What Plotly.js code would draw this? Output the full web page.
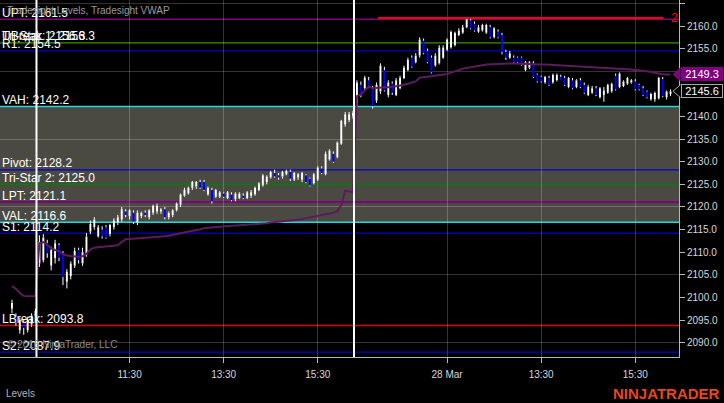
<!DOCTYPE html>
<html><head><meta charset="utf-8">
<script src="https://cdn.plot.ly/plotly-3.0.1.min.js"></script>
<style>html,body{margin:0;padding:0;background:#000;}#chart{width:724px;height:403px;}</style>
</head><body><div id="chart"></div>
<script>
// ---- data (5-minute bars; bar index 0 = session open of day 1) ----
const firstBar = -6;
const open = [
2097.5,2095.75,2092.75,2094.5,2092.75,2094.0,2096.0,
2107.5,2108.25,2112.0,2107.0,2108.75,2111.5,2109.75,2103.5,2104.75,2107.0,
2110.5,2107.5,2109.5,2114.5,2115.5,2113.5,2115.0,2115.5,2114.0,2115.5,
2116.5,2117.25,2119.0,2118.0,2118.75,2116.5,2118.0,2118.75,2117.75,2118.75,
2119.0,2119.0,2119.5,2117.75,2118.25,2119.25,2120.5,2122.5,2123.0,2124.25,
2124.5,2125.5,2125.5,2122.75,2123.75,2122.25,2122.25,2123.0,2122.0,2122.75,
2121.75,2122.0,2122.5,2122.0,2122.5,2122.75,2123.75,2124.75,2125.5,2126.5,
2127.5,2127.0,2126.75,2127.25,2127.75,2126.0,2126.5,2126.0,2127.0,2126.25,
2125.25,2126.0,2128.5,2127.25,2130.5,2131.75,2131.0,2134.0,2138.25,2139.25,2140.0,
2143.0,2147.0,2146.25,2148.0,2146.25,2143.5,2145.5,2150.25,2144.75,2147.25,
2144.75,2146.25,2148.5,2150.25,2153.0,2152.0,2153.5,2156.75,2154.5,2153.0,
2151.25,2151.75,2153.0,2154.75,2155.25,2155.75,2158.0,2158.5,2159.75,2161.25,
2160.5,2158.75,2159.0,2158.5,2159.75,2157.5,2158.75,2158.0,2154.25,2153.0,
2153.0,2153.0,2153.0,2150.25,2150.75,2151.75,2149.25,2148.75,2147.5,2148.5,
2147.5,2148.0,2148.75,2148.5,2146.5,2148.0,2146.5,2148.0,2147.0,2144.75,
2145.25,2146.25,2144.25,2144.75,2145.25,2145.5,2149.0,2146.5,2146.75,2147.25,
2147.5,2147.75,2147.0,2146.25,2145.5,2143.75,2143.75,2144.0,2148.25,2144.25,2145.0];
const high = [
2099.5,2096.5,2095.5,2095.0,2095.75,2096.5,2097.5,
2113.75,2114.0,2112.75,2111.25,2112.75,2112.0,2110.25,2106.25,2108.0,2111.0,
2111.0,2111.0,2114.25,2117.0,2117.75,2116.0,2115.75,2116.0,2116.25,2117.5,
2118.25,2120.0,2119.5,2119.5,2119.25,2119.25,2119.0,2119.25,2119.5,2120.5,
2120.75,2119.75,2120.0,2119.0,2119.5,2121.0,2123.0,2124.25,2124.5,2125.75,
2125.75,2126.0,2126.0,2124.5,2124.25,2124.0,2123.5,2123.25,2123.5,2123.25,
2123.25,2123.25,2123.0,2123.5,2123.75,2124.5,2125.5,2127.25,2127.0,2128.0,
2128.25,2127.5,2128.0,2128.25,2128.25,2127.75,2127.5,2127.75,2127.25,2126.5,
2127.5,2129.0,2129.0,2132.25,2132.75,2132.25,2134.5,2139.25,2141.0,2141.0,2141.25,
2148.0,2147.75,2149.0,2148.75,2146.75,2147.5,2151.75,2151.0,2148.0,2147.75,
2148.5,2149.0,2151.25,2153.0,2153.5,2154.0,2157.5,2157.25,2155.0,2153.5,
2154.0,2155.75,2155.75,2157.25,2159.0,2158.75,2159.5,2160.25,2162.0,2161.75,
2161.0,2160.25,2160.5,2160.5,2160.25,2159.75,2159.25,2158.5,2154.75,2154.5,
2153.5,2153.25,2153.25,2152.25,2152.25,2152.25,2149.5,2149.0,2149.0,2149.0,
2149.5,2149.5,2149.25,2149.0,2148.75,2148.5,2148.25,2148.5,2147.5,2147.0,
2146.75,2146.75,2146.5,2146.5,2147.25,2147.5,2149.5,2149.75,2148.0,2148.75,
2148.25,2148.25,2147.25,2146.75,2145.75,2145.25,2145.5,2148.75,2148.75,2145.75,2146.0];
const low = [
2096.5,2093.75,2092.0,2091.75,2092.25,2093.5,2095.5,
2106.75,2107.75,2108.75,2106.0,2107.5,2108.0,2102.75,2102.0,2104.0,2106.5,
2107.5,2107.0,2109.0,2114.0,2115.0,2113.25,2113.0,2113.0,2113.5,2115.0,
2116.0,2116.75,2117.75,2117.25,2116.25,2116.0,2117.5,2117.75,2117.25,2118.25,
2118.5,2118.5,2117.25,2117.25,2117.75,2119.0,2120.0,2122.25,2122.75,2123.75,
2124.0,2124.0,2123.5,2122.5,2120.75,2122.0,2122.0,2122.0,2121.75,2121.25,
2121.25,2121.75,2121.75,2121.75,2122.0,2122.5,2123.5,2124.5,2125.0,2126.25,
2126.5,2126.0,2126.25,2127.0,2125.75,2125.75,2126.0,2125.5,2125.25,2124.5,
2125.0,2125.75,2127.25,2127.0,2130.25,2129.75,2130.75,2133.75,2137.75,2138.75,2139.5,
2142.25,2144.25,2145.75,2146.25,2141.75,2143.0,2145.0,2145.5,2144.25,2144.75,
2144.5,2146.0,2148.25,2150.0,2150.75,2151.75,2153.0,2153.75,2151.75,2149.5,
2151.0,2151.5,2152.75,2154.5,2155.0,2155.5,2157.75,2158.25,2159.5,2159.25,
2158.75,2158.5,2158.75,2158.25,2157.25,2157.25,2157.25,2153.75,2152.5,2152.75,
2151.75,2151.75,2151.25,2150.0,2150.5,2148.5,2147.5,2147.5,2147.25,2146.75,
2147.25,2147.75,2148.0,2146.75,2146.25,2146.0,2146.25,2146.25,2145.0,2144.5,
2145.0,2144.5,2144.0,2143.25,2145.0,2145.25,2145.75,2146.25,2146.5,2147.0,
2147.25,2145.75,2145.75,2144.5,2144.0,2143.5,2143.25,2143.75,2144.25,2143.75,2144.5];
const close = [
2098.75,2094.5,2095.0,2093.25,2095.0,2096.0,2097.0,
2112.25,2113.25,2109.75,2110.5,2112.0,2108.75,2104.5,2105.75,2107.5,2110.25,
2108.25,2110.0,2113.5,2116.25,2117.25,2115.5,2113.5,2113.25,2116.0,2117.0,
2117.75,2119.5,2118.25,2119.25,2116.75,2118.75,2118.75,2118.25,2119.25,2120.25,
2120.25,2119.5,2117.75,2118.75,2119.25,2120.75,2122.75,2123.75,2124.25,2125.5,
2125.5,2124.25,2123.75,2124.25,2121.25,2123.75,2123.25,2122.25,2123.25,2121.5,
2123.0,2123.0,2122.0,2123.25,2123.25,2124.25,2125.25,2127.0,2126.75,2127.75,
2126.75,2126.5,2127.75,2128.0,2126.25,2127.5,2127.25,2127.5,2125.5,2124.75,
2127.25,2128.75,2127.5,2131.75,2132.5,2130.0,2134.25,2139.0,2140.5,2140.5,2140.75,
2147.5,2144.75,2148.5,2146.5,2142.25,2147.0,2151.25,2145.75,2147.5,2145.25,
2148.0,2148.5,2150.75,2152.5,2151.0,2153.5,2157.0,2154.0,2152.0,2149.75,
2153.5,2155.25,2155.25,2157.0,2158.75,2158.5,2159.0,2159.75,2161.5,2159.5,
2159.0,2159.75,2160.25,2160.25,2157.5,2159.5,2157.5,2154.25,2153.0,2154.0,
2152.0,2152.0,2151.5,2152.0,2152.0,2148.75,2147.75,2147.75,2148.75,2147.0,
2149.25,2149.25,2148.0,2147.0,2148.5,2146.25,2148.0,2146.5,2145.25,2146.5,
2146.25,2144.75,2146.25,2145.75,2147.0,2147.25,2146.0,2149.5,2147.75,2148.5,
2148.0,2146.0,2146.0,2144.75,2144.25,2145.0,2145.25,2148.5,2144.5,2145.5,2145.6];
const vwap = [
2102.55,2101.9,2101.0,2100.35,2100.25,2100.25,2100.35,
2112.0,2112.25,2111.6,2110.9,2110.5,2110.25,2109.6,2109.25,2109.15,2109.05,
2109.0,2109.1,2109.6,2110.6,2111.0,2111.1,2111.2,2111.2,2111.25,2111.4,
2111.55,2112.25,2112.85,2112.9,2112.95,2113.0,2113.05,2113.1,2113.15,2113.25,
2113.35,2113.45,2113.55,2113.65,2113.8,2114.05,2114.2,2114.45,2114.6,2114.8,
2114.9,2115.1,2115.3,2115.45,2115.55,2115.6,2115.65,2115.75,2115.8,2115.85,
2115.9,2115.95,2116.0,2116.05,2116.1,2116.15,2116.2,2116.25,2116.4,2116.55,
2116.7,2116.8,2116.85,2116.95,2117.0,2117.1,2117.2,2117.35,2117.5,2117.7,
2117.85,2118.0,2118.15,2118.3,2118.55,2118.75,2119.0,2120.45,2123.55,2123.45,2123.2,
2144.5,2144.85,2145.75,2146.6,2146.25,2146.35,2146.45,2146.45,2146.45,2146.5,
2146.7,2146.85,2147.0,2147.25,2147.5,2147.75,2148.55,2148.75,2148.8,2148.9,
2149.0,2149.1,2149.25,2149.4,2149.7,2150.0,2150.3,2150.55,2150.7,2150.9,
2151.1,2151.25,2151.35,2151.5,2151.55,2151.65,2151.7,2151.75,2151.75,2151.7,
2151.7,2151.65,2151.65,2151.6,2151.6,2151.6,2151.55,2151.5,2151.5,2151.45,
2151.45,2151.4,2151.4,2151.35,2151.3,2151.25,2151.2,2151.15,2151.1,2151.1,
2151.05,2151.0,2150.9,2150.85,2150.75,2150.7,2150.65,2150.6,2150.55,2150.5,
2150.4,2150.3,2150.2,2150.15,2150.1,2149.9,2149.65,2149.45,2149.35,2149.3,2149.3];

const tickBars = [24, 48, 72, 105, 129, 153];
const tickLabels = ["11:30", "13:30", "15:30", "28 Mar", "13:30", "15:30"];
const sessionStarts = [0.25, 81.25];

const levelNames  = ["UPT","UBreak","Tri-Star 1","R1","VAH","Pivot","Tri-Star 2","LPT","VAL","S1","LBreak","S2"];
const levelValues = [2161.5, 2156.3, 2156.3, 2154.5, 2142.2, 2128.2, 2125.0, 2121.1, 2116.6, 2114.2, 2093.8, 2087.9];

const rayBars = [87.4, 160.1];
const rayValue = 2161.75;
const rayLabel = "2";

// ---- styles ----
const levelColors = ["#800080","#e00000","#008000","#0000cd","#22d8d8","#0000cd","#008000","#800080","#22d8d8","#0000cd","#e00000","#0000cd"];
const levelWidths = [1.5,1.5,1.5,1.2,1.5,1.2,1.5,2,1.5,1.2,1.5,1.2];
const FONT = "Arial, 'Liberation Sans', sans-serif";
const gridColor = "rgba(255,255,255,0.2)";
const axisColor = "#b8b8b8";
const yRange = [2086.84, 2165.75];
const xRange = [-9.056, 164.16];

const x = open.map((_, i) => i + firstBar);

// wicks drawn outside the bodies only (white for every bar)
const wx = [], wy = [];
x.forEach((k, i) => {
  const top = Math.max(open[i], close[i]), bot = Math.min(open[i], close[i]);
  wx.push(k, k, null, k, k, null);
  wy.push(top, high[i], null, low[i], bot, null);
});

const traces = [
  {type: "scatter", mode: "lines", x: wx, y: wy, line: {color: "#ffffff", width: 1}, hoverinfo: "skip"},
  {type: "candlestick", x: x, open: open, high: high, low: low, close: close,
   increasing: {line: {color: "#ffffff", width: 0}, fillcolor: "#ffffff"},
   decreasing: {line: {color: "#0000ff", width: 0}, fillcolor: "#0000ff"},
   whiskerwidth: 0, hoverinfo: "skip"},
  {type: "scatter", mode: "lines", x: x, y: vwap, yaxis: "y2",
   line: {color: "#5e1a5e", width: 2}, hoverinfo: "skip"}
];

const VAL = levelValues[levelNames.indexOf("VAL")];
const VAH = levelValues[levelNames.indexOf("VAH")];

const shapes = [
  {type: "rect", xref: "paper", x0: 0, x1: 1, yref: "y", y0: VAL, y1: VAH,
   fillcolor: "#4b4a42", line: {width: 0}, layer: "below"}
];
levelValues.forEach((v, i) => {
  shapes.push({type: "line", xref: "paper", x0: 0, x1: 1, yref: "y", y0: v, y1: v,
    line: {color: levelColors[i], width: levelWidths[i]}, layer: "between"});
});
sessionStarts.forEach(s => {
  shapes.push({type: "line", xref: "x", x0: s, x1: s, yref: "paper", y0: 0, y1: 1,
    line: {color: "#ffffff", width: 2}, layer: "above"});
});
shapes.push({type: "line", xref: "x", x0: rayBars[0], x1: rayBars[1], yref: "y", y0: rayValue, y1: rayValue,
  line: {color: "#ff0000", width: 2}, layer: "above"});

// price markers on the right axis
const plotW = 679, unitPx = 357 / (yRange[1] - yRange[0]);
const lastVwap = vwap[vwap.length - 1];
const lastClose = close[close.length - 1];
function marker(v, fill, border) {
  const h = 6.5 / unitPx, xt = 673 / plotW, xb = 680.5 / plotW;
  shapes.push({type: "path", xref: "paper", yref: "y",
    path: `M ${xb},${v + h} L ${xt},${v} L ${xb},${v - h}`,
    fillcolor: fill, line: {color: border, width: 1}, layer: "above"});
}
marker(lastVwap, "#800080", "#800080");
marker(lastClose, "#000000", "#a8a8a8");

// axis labels every 5 points, hidden where a price marker covers them
const yTicks = [];
for (let v = 2090; v <= 2165; v += 5) {
  if (Math.abs(v - lastVwap) * unitPx > 9 && Math.abs(v - lastClose) * unitPx > 9) yTicks.push(v);
}

const annotations = [];
levelNames.forEach((n, i) => {
  annotations.push({xref: "paper", x: 0, xanchor: "left", xshift: 0, yref: "y", y: levelValues[i],
    yanchor: "bottom", yshift: -2.5, showarrow: false, text: n + ": " + levelValues[i].toFixed(1),
    font: {family: FONT, size: 12, color: "#ffffff"}});
});
annotations.push(
  {xref: "paper", yref: "paper", x: 5 / plotW, y: (357 - 10) / 357, xanchor: "left", yanchor: "middle",
   showarrow: false, text: "Tradesight Levels, Tradesight VWAP", font: {family: FONT, size: 10, color: "#9a9a9a"}},
  {xref: "paper", yref: "paper", x: 5 / plotW, y: (357 - 344) / 357, xanchor: "left", yanchor: "middle",
   showarrow: false, text: "© 2016 NinjaTrader, LLC", font: {family: FONT, size: 10, color: "#8c8c8c"}},
  {xref: "paper", yref: "paper", x: 4 / plotW, y: (357 - 393) / 357, xanchor: "left", yanchor: "middle",
   showarrow: false, text: "Levels", font: {family: FONT, size: 10, color: "#b4b4b4"}},
  {xref: "paper", yref: "paper", x: 722 / plotW, y: (357 - 393) / 357, xanchor: "right", yanchor: "middle",
   showarrow: false, text: "<b>NINJATRADER</b>", font: {family: FONT, size: 15, color: "#e8461e"}},
  {xref: "x", yref: "y", x: rayBars[1], y: rayValue, xanchor: "left", yanchor: "middle", xshift: 6,
   showarrow: false, text: rayLabel, font: {family: FONT, size: 12, color: "#ff0000"}},
  {xref: "paper", yref: "y", x: 680.5 / plotW, y: lastVwap, xanchor: "left", yanchor: "middle",
   showarrow: false, text: lastVwap.toFixed(1), width: 38, height: 10, align: "center",
   bgcolor: "#800080", bordercolor: "#800080", borderwidth: 1, borderpad: 1,
   font: {family: FONT, size: 11, color: "#ffffff"}},
  {xref: "paper", yref: "y", x: 680.5 / plotW, y: lastClose, xanchor: "left", yanchor: "middle",
   showarrow: false, text: lastClose.toFixed(1), width: 38, height: 10, align: "center",
   bgcolor: "#000000", bordercolor: "#a8a8a8", borderwidth: 1, borderpad: 1,
   font: {family: FONT, size: 11, color: "#ffffff"}}
);

const layout = {
  width: 724, height: 403,
  margin: {l: 0, r: 45, t: 0, b: 46, pad: 0},
  paper_bgcolor: "#000000", plot_bgcolor: "#000000",
  showlegend: false, hovermode: false,
  font: {family: FONT, color: "#d8d8d8"},
  xaxis: {range: xRange, tickmode: "array", tickvals: tickBars, ticktext: tickLabels,
    showgrid: true, gridcolor: gridColor, gridwidth: 1, zeroline: false,
    ticks: "outside", ticklen: 5, tickcolor: axisColor, showline: true, linecolor: axisColor, linewidth: 1,
    ticklabelstandoff: 3,
    tickfont: {family: FONT, size: 10, color: "#d8d8d8"}, rangeslider: {visible: false}, fixedrange: true},
  yaxis: {range: yRange, side: "right", tickmode: "array", tickvals: yTicks,
    ticktext: yTicks.map(v => v.toFixed(1)),
    showgrid: false, zeroline: false, ticks: "outside", ticklen: 5, tickcolor: axisColor,
    showline: true, linecolor: axisColor, linewidth: 1,
    tickfont: {family: FONT, size: 10, color: "#d8d8d8"}, fixedrange: true},
  yaxis2: {range: yRange, overlaying: "y", side: "right", tick0: 2090, dtick: 15,
    showgrid: true, gridcolor: gridColor, gridwidth: 1, zeroline: false,
    showticklabels: false, ticks: "", showline: false, fixedrange: true},
  shapes: shapes,
  annotations: annotations
};

Plotly.newPlot("chart", traces, layout, {displayModeBar: false, staticPlot: true});
</script>
</body></html>
